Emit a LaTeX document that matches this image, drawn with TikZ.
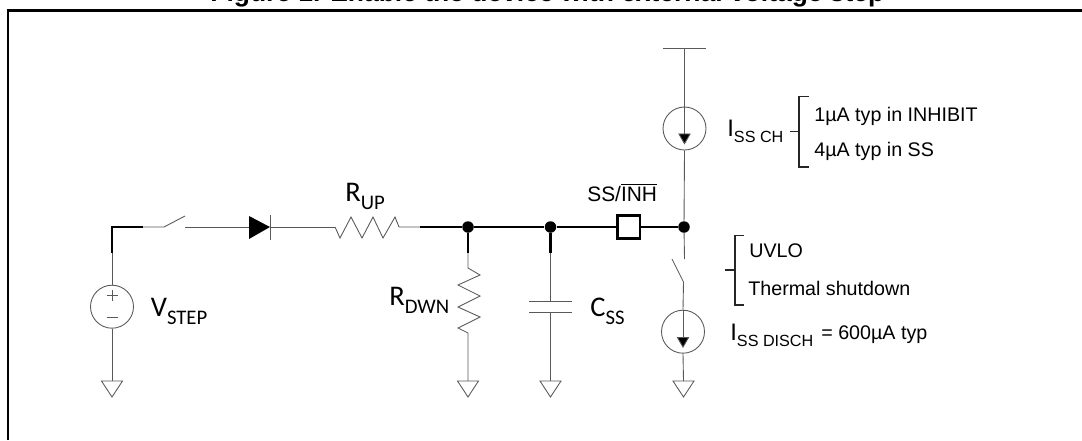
\documentclass[tikz,border=0pt]{standalone}
\usepackage{fontspec}
\setmainfont{Liberation Sans}
\newfontfamily\calib{Carlito}
\usetikzlibrary{arrows.meta}

\newcommand{\calibsub}[2]{{\calib\fontsize{16.2}{16}\selectfont #1\raisebox{-4.6pt}{\fontsize{11.8}{12}\selectfont #2}}}
\newcommand{\arialsub}[2]{{\fontsize{13.6}{14}\selectfont #1\raisebox{-3.4pt}{\fontsize{9.2}{11}\selectfont #2}}}

\tikzset{
    wire/.style={black!65, line width=0.5pt},
    bus/.style={black, line width=1.2pt},
    dotnode/.style={circle, fill=black, inner sep=0pt, minimum size=0.23cm},
    srcnode/.style={circle, draw=black!65, line width=0.5pt, fill=white, inner sep=0pt, minimum size=0.86cm},
    txt/.style={anchor=base west, inner sep=0pt, font=\fontsize{11.2}{13}\selectfont},
    lab/.style={anchor=base west, inner sep=0pt},
    gnd/.pic={\draw[wire, line join=miter] (-10.5, 0) -- (10.5, 0) -- (0, 16) -- cycle;},
    curtip/.style={-{Stealth[length=0.22cm, width=0.25cm, inset=0pt, fill=black]}},
}

\begin{document}
\begin{tikzpicture}[x=0.02cm, y=-0.02cm, >=stealth]
    \useasboundingbox (0, 0) rectangle (1082, 440);

    % Frame and title
    \draw[black, line width=1.2pt] (8, 440) -- (8, 10.5) -- (1082, 10.5);
    \node[lab, font=\bfseries\fontsize{15.05}{16}\selectfont] (title) at (210, 1.5) {Figure 1. Enable the device with external voltage step};

    % Named points
    \coordinate (corner) at (112, 227);
    \coordinate (swa) at (164, 227);
    \coordinate (swb) at (185, 227);
    \coordinate (blade) at (185, 216);
    \coordinate (thickA) at (143, 227);
    \coordinate (thickB) at (112, 253);
    \coordinate (anode) at (249, 227);
    \coordinate (cathode) at (270, 227);
    \coordinate (rupa) at (335, 227);
    \coordinate (rupb) at (399, 227);
    \coordinate (thickC) at (420, 227);
    \node[dotnode] (nodeA) at (468, 227) {};
    \node[dotnode] (nodeB) at (550.5, 227) {};
    \node[dotnode] (nodeC) at (684, 227) {};
    \coordinate (rdwna) at (468, 268);
    \coordinate (rdwnb) at (468, 333);
    \coordinate (thickD) at (468, 253);
    \coordinate (thickE) at (550.5, 253);
    \coordinate (capa) at (550.5, 301.5);
    \coordinate (capb) at (550.5, 312);
    \coordinate (rail) at (684.5, 48);
    \coordinate (vsw) at (684.5, 259);
    \coordinate (vswb) at (683.5, 282);
    \coordinate (vblade) at (672, 259);
    \coordinate (gndA) at (112, 381);
    \coordinate (gndB) at (468, 381);
    \coordinate (gndC) at (550.5, 381);
    \coordinate (gndD) at (683.5, 381);

    % Sources and pin
    \node[srcnode] (vstep) at (112, 306.7) {};
    \node[srcnode] (issch) at (684.5, 128.5) {};
    \node[srcnode] (issdis) at (683, 331.7) {};
    \node[draw=black, line width=1.7pt, fill=white, inner sep=0pt, minimum size=0.46cm] (pin) at (628.5, 227) {};

    % Supply side
    \draw[wire] (thickB) -- (vstep.north);
    \draw[wire] (vstep.south) -- (gndA);
    \draw[bus] (thickB) -- (corner) -- (thickA);
    \draw[wire] (thickA) -- (swa) -- (blade);
    \draw[wire] (swb) -- (anode);
    \draw[wire] (vstep.center) ++(-5.5, -11) -- ++(11, 0);
    \draw[wire] (vstep.center) ++(0, -16.5) -- ++(0, 11);
    \draw[wire] (vstep.center) ++(-5.5, 11) -- ++(11, 0);

    % Diode
    \fill[black] (249, 216) -- (cathode) -- (249, 239) -- cycle;
    \draw[wire] (270, 215) -- (270, 240);
    \draw[wire] (cathode) -- (rupa);

    % R up
    \draw[wire] (rupa) -- (340, 238) -- (351, 217) -- (362, 238) -- (373, 217) -- (383, 238) -- (395, 217) -- (rupb) -- (thickC);

    % Main line
    \draw[bus] (thickC) -- (nodeA) -- (nodeB) -- (pin);
    \draw[bus] (pin) -- (nodeC);

    % R down
    \draw[bus] (nodeA) -- (thickD);
    \draw[wire] (thickD) -- (rdwna) -- (480, 275) -- (458, 285) -- (480, 296) -- (458, 307) -- (480, 317) -- (458, 328) -- (rdwnb) -- (gndB);

    % Capacitor
    \draw[bus] (nodeB) -- (thickE);
    \draw[wire] (thickE) -- (capa);
    \draw[wire] (529, 301.5) -- (572, 301.5);
    \draw[wire] (529, 312) -- (572, 312);
    \draw[wire] (capb) -- (gndC);

    % Right branch
    \draw[wire] (663, 48) -- (706, 48);
    \draw[wire] (rail) -- (issch.north);
    \draw[wire] (issch.south) -- (nodeC);
    \draw[wire] (nodeC) -- (vsw);
    \draw[wire] (vblade) -- (vswb) -- (issdis.north);
    \draw[wire] (issdis.south) -- (gndD);
    \draw[wire, curtip] (issch.north) -- (684.5, 144.5);
    \draw[wire, curtip] (issdis.north) -- (683, 348);

    % Grounds
    \foreach \gndpt in {gndA, gndB, gndC, gndD}
        \pic at (\gndpt) {gnd};

    % Brackets
    \draw[black!85, line width=0.8pt] (809, 96.5) -- (799, 96.5) -- (799, 167) -- (809, 167);
    \draw[black!85, line width=0.8pt] (790, 131.5) -- (799, 131.5);
    \draw[black!85, line width=0.8pt] (744, 235.5) -- (735, 235.5) -- (735, 305) -- (744, 305);
    \draw[black!85, line width=0.8pt] (725, 270) -- (735, 270);

    % Calibri labels
    \node[lab] (rup) at (345, 201.7) {\calibsub{R}{UP}};
    \node[lab] (rdwn) at (389, 305.7) {\calibsub{R}{DWN}};
    \node[lab] (vlab) at (150.5, 316.7) {\calibsub{V}{STEP}};
    \node[lab] (css) at (590, 316.7) {\calibsub{C}{SS}};

    % Arial labels
    \node[txt, font=\fontsize{11.9}{13}\selectfont] (pinlab) at (587, 201) {SS/$\overline{\mbox{INH}}$};
    \node[lab] (ich) at (727, 136.7) {\arialsub{I}{SS CH}};
    \node[lab] (idis) at (730, 340.7) {\arialsub{I}{SS DISCH}};
    \node[txt] (one) at (814, 121.7) {1µA typ in INHIBIT};
    \node[txt] (four) at (814, 156.7) {4µA typ in SS};
    \node[txt] (uvlo) at (749, 257.7) {UVLO};
    \node[txt] (therm) at (748, 295) {Thermal shutdown};
    \node[txt] (dis) at (821, 339) {= 600µA typ};
\end{tikzpicture}
\end{document}
